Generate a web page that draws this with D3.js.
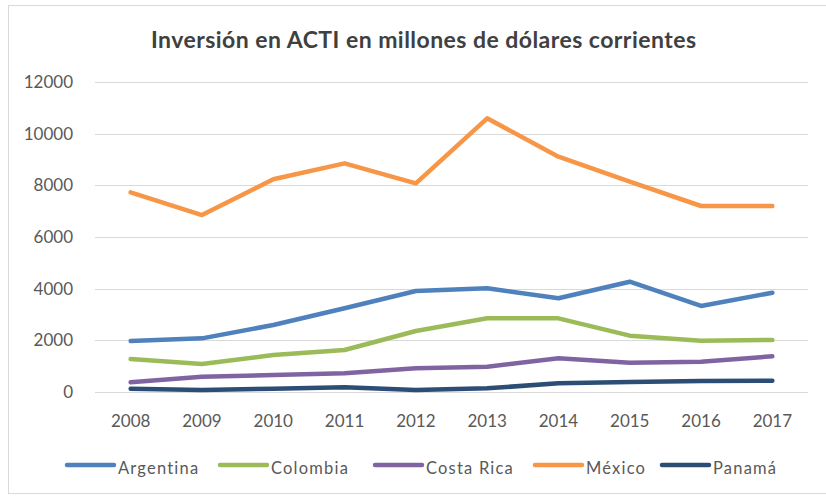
<!DOCTYPE html>
<html>
<head>
<meta charset="utf-8">
<script src="https://cdn.jsdelivr.net/npm/d3@7"></script>
<style>
  html, body { margin: 0; padding: 0; background: #fff; }
  svg { display: block; font-family: Lato, "Open Sans", sans-serif; }
</style>
</head>
<body>
<svg id="chart" width="826" height="497"></svg>
<script>
// Investment in ACTI, millions of current dollars
const years = ["2008", "2009", "2010", "2011", "2012", "2013", "2014", "2015", "2016", "2017"];
const argentina = [1974, 2077, 2594, 3240, 3910, 4013, 3627, 4270, 3330, 3845];
const colombia  = [1277, 1084, 1432, 1626, 2361, 2852, 2852, 2180, 1987, 2013];
const costaRica = [374, 594, 658, 723, 916, 981, 1303, 1136, 1174, 1381];
const mexico    = [7730, 6850, 8233, 8852, 8077, 10594, 9110, 8140, 7200, 7200];
const panama    = [129, 77, 129, 181, 77, 142, 335, 387, 426, 439];
const yTicks = [0, 2000, 4000, 6000, 8000, 10000, 12000];
const seriesNames = ["Argentina", "Colombia", "Costa Rica", "México", "Panamá"];
const seriesColors = ["#4f81bd", "#9bbb59", "#8064a2", "#f79646", "#2c4d75"];

const series = [argentina, colombia, costaRica, mexico, panama].map((values, i) => ({
  name: seriesNames[i], color: seriesColors[i], values
}));

const svg = d3.select("#chart");

// outer frame
svg.append("rect")
  .attr("x", 8.5).attr("y", 5.5)
  .attr("width", 830).attr("height", 488)
  .attr("fill", "#fff").attr("stroke", "#d9d9d9");

svg.append("text")
  .attr("x", 151).attr("y", 48)
  .attr("font-size", 23).attr("font-weight", 700)
  .attr("fill", "#404040")
  .attr("textLength", 545).attr("lengthAdjust", "spacing")
  .text("Inversión en ACTI en millones de dólares corrientes");

const plot = { left: 95, right: 808, top: 82, bottom: 392 };
const x = d3.scaleBand().domain(years).range([plot.left, plot.right]);
const y = d3.scaleLinear().domain([0, 12000]).range([plot.bottom, plot.top]);

// horizontal gridlines
svg.append("g")
  .selectAll("line").data(yTicks).join("line")
  .attr("x1", plot.left).attr("x2", plot.right)
  .attr("y1", d => Math.round(y(d)) + 0.5).attr("y2", d => Math.round(y(d)) + 0.5)
  .attr("stroke", "#d9d9d9").attr("stroke-width", 1);

// y axis labels
const yAxis = svg.append("g")
  .attr("transform", `translate(${plot.left - 22},0)`)
  .call(d3.axisLeft(y).tickValues(yTicks).tickFormat(d3.format("d")).tickSize(0).tickPadding(0));
yAxis.select(".domain").remove();
yAxis.selectAll("text")
  .attr("font-size", 17).attr("fill", "#595959")
  .attr("font-family", "Lato, sans-serif");

// x axis labels
const xAxis = svg.append("g")
  .attr("transform", `translate(0,${plot.bottom + 23})`)
  .call(d3.axisBottom(x).tickSize(0).tickPadding(0));
xAxis.select(".domain").remove();
xAxis.selectAll("text")
  .attr("font-size", 17).attr("fill", "#595959")
  .attr("font-family", "Lato, sans-serif");

const line = d3.line()
  .x((d, i) => x(years[i]) + x.bandwidth() / 2)
  .y(d => y(d));

svg.append("g")
  .selectAll("path").data(series).join("path")
  .attr("d", d => line(d.values))
  .attr("fill", "none")
  .attr("stroke", d => d.color)
  .attr("stroke-width", 4.5)
  .attr("stroke-linecap", "round")
  .attr("stroke-linejoin", "round");

// legend
const legendX = [67, 220, 375, 535, 662];
const legend = svg.append("g").attr("transform", "translate(0,465)");
const items = legend.selectAll("g").data(series).join("g")
  .attr("transform", (d, i) => `translate(${legendX[i]},0)`);
items.append("line")
  .attr("x1", 0).attr("x2", 47)
  .attr("stroke", d => d.color).attr("stroke-width", 4.5)
  .attr("stroke-linecap", "round");
items.append("text")
  .attr("x", 51).attr("y", 8.5)
  .attr("font-size", 16.5).attr("fill", "#595959")
  .attr("letter-spacing", 1.2)
  .text(d => d.name);
</script>
</body>
</html>
